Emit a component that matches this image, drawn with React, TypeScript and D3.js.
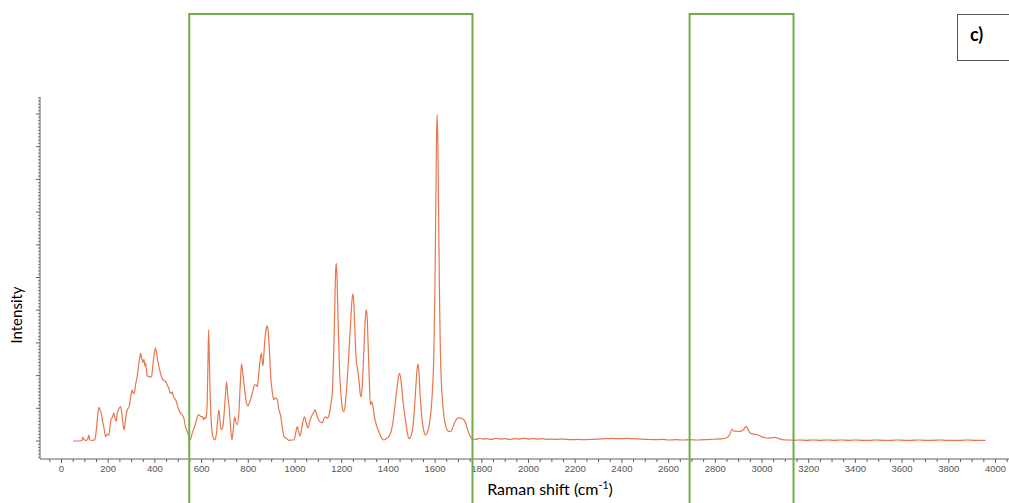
import React, { useRef, useEffect } from 'react';
import * as d3 from 'd3';

// Raman spectrum: [shift (cm-1), intensity (a.u.)]
const lowRegion: [number, number][] = [
  [50, 0], [80, 0], [88, 0.02], [92, 0.11], [97, 0.04], [105, 0.02], [112, 0.05], [117, 0.18],
  [121, 0.03], [135, 0.02], [143, 0.05], [150, 0.4], [156, 0.85], [160, 1.03], [165, 0.95],
  [170, 0.85], [176, 0.6], [182, 0.4], [189, 0.13], [196, 0.2], [203, 0.18], [208, 0.45],
  [213, 0.69], [218, 0.72], [224, 0.85], [229, 0.7], [234, 0.6], [238, 0.82], [241, 0.9],
  [247, 1.0], [253, 1.05], [258, 0.85], [263, 0.55], [267, 0.34], [272, 0.5], [277, 0.8],
  [281, 0.95], [286, 1.0], [290, 1.05], [295, 1.3], [300, 1.5], [303, 1.56], [308, 1.45],
  [313, 1.5], [318, 1.75], [324, 1.97], [330, 2.3], [335, 2.55], [339, 2.68], [344, 2.5],
  [349, 2.4], [353, 2.5], [357, 2.3], [360, 2.38], [364, 2.15], [367, 2.0], [371, 1.98],
  [376, 1.97], [382, 1.95], [386, 1.98], [391, 2.3], [396, 2.6], [402, 2.84], [407, 2.7],
  [411, 2.5], [417, 2.28], [423, 2.1], [431, 1.92], [438, 1.85], [446, 1.82], [452, 1.72],
  [460, 1.61], [466, 1.45], [474, 1.5], [480, 1.35], [489, 1.26], [496, 1.1], [503, 0.95],
  [510, 0.85], [517, 0.8], [524, 0.7], [531, 0.44], [538, 0.3], [545, 0.15], [550, 0.03],
];

const fingerprintRegion: [number, number][] = [
  [556, 0.12], [560, 0.25], [566, 0.35], [574, 0.54], [580, 0.7], [585, 0.8], [589, 0.8],
  [596, 0.75], [603, 0.74], [608, 0.65], [614, 0.72], [617, 0.69], [621, 0.8], [624, 1.2],
  [627, 2.3], [630, 3.4], [633, 2.6], [636, 1.6], [639, 0.95], [643, 0.4], [646, 0.2],
  [651, 0.08], [656, 0.03], [660, 0.1], [664, 0.25], [668, 0.6], [674, 0.95], [679, 0.6],
  [684, 0.35], [690, 0.4], [696, 0.8], [702, 1.4], [707, 1.82], [712, 1.4], [719, 0.95],
  [724, 0.45], [730, 0.03], [735, 0.3], [741, 0.74], [746, 0.6], [753, 0.5], [760, 0.9],
  [766, 1.8], [771, 2.36], [776, 2.1], [784, 1.6], [790, 1.25], [799, 1.07], [806, 1.2],
  [813, 1.35], [820, 1.55], [827, 1.71], [833, 1.72], [839, 1.66], [845, 2.1], [851, 2.5],
  [856, 2.68], [860, 2.4], [863, 2.3], [867, 2.7], [871, 3.1], [876, 3.4], [881, 3.52],
  [886, 3.3], [891, 2.7], [896, 1.97], [901, 1.6], [906, 1.35], [910, 1.26], [916, 1.32],
  [924, 1.26], [930, 1.0], [939, 0.75], [946, 0.4], [953, 0.13], [960, 0.1], [974, 0.02],
  [985, 0.03], [996, 0.03], [1003, 0.25], [1010, 0.44], [1015, 0.3], [1021, 0.15],
  [1028, 0.35], [1034, 0.6], [1041, 0.74], [1048, 0.55], [1056, 0.4], [1063, 0.6],
  [1070, 0.74], [1078, 0.85], [1086, 0.95], [1093, 0.8], [1103, 0.62], [1110, 0.58],
  [1117, 0.55], [1124, 0.68], [1131, 0.74], [1138, 0.7], [1146, 0.8], [1153, 1.1],
  [1160, 1.5], [1165, 2.5], [1170, 4.0], [1174, 5.2], [1177, 5.43], [1180, 5.0],
  [1184, 3.8], [1190, 2.3], [1197, 1.4], [1203, 1.0], [1209, 0.9], [1215, 1.1], [1222, 1.7],
  [1230, 2.6], [1238, 3.6], [1244, 4.3], [1248, 4.5], [1252, 4.2], [1257, 3.3], [1262, 2.5],
  [1266, 2.27], [1270, 2.1], [1276, 1.7], [1280, 1.4], [1283, 1.35], [1288, 1.7],
  [1294, 2.6], [1300, 3.6], [1304, 4.0], [1308, 3.9], [1313, 3.0], [1318, 1.9], [1323, 1.1],
  [1328, 1.2], [1333, 1.1], [1340, 0.75], [1348, 0.5], [1359, 0.29], [1370, 0.1],
  [1381, 0.03], [1392, 0.08], [1400, 0.12], [1412, 0.3], [1420, 0.6], [1430, 1.2],
  [1438, 1.7], [1444, 2.0], [1448, 2.07], [1453, 1.9], [1460, 1.4], [1467, 0.95], [1474, 0.6],
  [1481, 0.25], [1488, 0.08], [1495, 0.12], [1502, 0.3], [1510, 0.8], [1517, 1.6],
  [1523, 2.2], [1527, 2.35], [1531, 2.1], [1536, 1.4], [1541, 0.9], [1547, 0.5], [1552, 0.3],
  [1559, 0.18], [1566, 0.25], [1574, 0.45], [1582, 0.9], [1588, 1.46], [1594, 2.5],
  [1599, 4.5], [1603, 7.2], [1606, 9.2], [1609, 10.0], [1612, 9.0], [1615, 7.0], [1619, 4.3],
  [1623, 2.6], [1627, 1.76], [1632, 1.2], [1638, 0.75], [1646, 0.44], [1654, 0.32],
  [1661, 0.29], [1668, 0.3], [1675, 0.4], [1683, 0.55], [1690, 0.65], [1697, 0.7],
  [1703, 0.71], [1710, 0.7], [1716, 0.68], [1723, 0.65], [1730, 0.55], [1737, 0.4],
  [1744, 0.25], [1752, 0.12], [1760, 0.07],
];

const silentRegion: [number, number][] = [
  [1775, 0.05], [1790, 0.08], [1805, 0.06], [1820, 0.07], [1840, 0.05], [1860, 0.08],
  [1880, 0.06], [1900, 0.07], [1920, 0.05], [1940, 0.07], [1960, 0.06], [1980, 0.08],
  [2000, 0.06], [2020, 0.07], [2040, 0.06], [2060, 0.07], [2080, 0.05], [2100, 0.06],
  [2120, 0.05], [2150, 0.06], [2180, 0.04], [2210, 0.05], [2240, 0.04], [2270, 0.05],
  [2300, 0.06], [2330, 0.07], [2360, 0.08], [2390, 0.07], [2420, 0.08], [2450, 0.07],
  [2480, 0.06], [2510, 0.05], [2540, 0.04], [2570, 0.05], [2600, 0.03], [2630, 0.04],
  [2660, 0.03], [2690, 0.04],
];

const chRegion: [number, number][] = [
  [2720, 0.03], [2750, 0.04], [2780, 0.05], [2810, 0.06], [2830, 0.07], [2850, 0.1],
  [2862, 0.2], [2872, 0.36], [2880, 0.3], [2890, 0.3], [2900, 0.29], [2910, 0.3],
  [2920, 0.34], [2928, 0.42], [2934, 0.44], [2940, 0.36], [2948, 0.25], [2958, 0.22],
  [2968, 0.2], [2980, 0.19], [2992, 0.15], [3003, 0.12], [3015, 0.1], [3030, 0.09],
  [3045, 0.1], [3058, 0.11], [3070, 0.08], [3087, 0.04], [3105, 0.03], [3120, 0.03],
  [3135, 0.02],
];

const highRegion: [number, number][] = [
  [3160, 0.03], [3190, 0.02], [3220, 0.03], [3250, 0.02], [3280, 0.03], [3310, 0.02],
  [3340, 0.03], [3370, 0.02], [3400, 0.03], [3430, 0.02], [3460, 0.02], [3490, 0.03],
  [3520, 0.02], [3550, 0.02], [3580, 0.03], [3610, 0.02], [3640, 0.02], [3670, 0.03],
  [3700, 0.02], [3730, 0.02], [3760, 0.03], [3790, 0.02], [3820, 0.02], [3850, 0.02],
  [3880, 0.03], [3910, 0.02], [3940, 0.02], [3957, 0.02],
];

// Highlighted bands (cm-1)
const highlightBands: [number, number][] = [
  [547, 1760],
  [2690, 3135],
];

const xTickLabels = d3.range(0, 4001, 200);
const panelLabel = 'c)';

const WIDTH = 1009;
const HEIGHT = 503;

const RamanChart: React.FC = () => {
  const svgRef = useRef<SVGSVGElement>(null);

  useEffect(() => {
    if (!svgRef.current) return;
    const svg = d3.select(svgRef.current);
    svg.selectAll('*').remove();

    const x = d3.scaleLinear().domain([0, 4000]).range([61.5, 995.5]);
    const y = d3.scaleLinear().domain([0, 10]).range([441, 114]);

    const axisColor = '#606060';
    const axisY = 459;
    const axisX = 40;

    // x axis line + ticks
    svg.append('line')
      .attr('x1', axisX).attr('x2', WIDTH)
      .attr('y1', axisY).attr('y2', axisY)
      .attr('stroke', axisColor).attr('stroke-width', 1);

    d3.range(-50, 4051, 50).forEach((v) => {
      const major = v % 200 === 0;
      svg.append('line')
        .attr('x1', x(v)).attr('x2', x(v))
        .attr('y1', axisY).attr('y2', axisY + (major ? 4 : 3))
        .attr('stroke', axisColor).attr('stroke-width', 1);
    });

    xTickLabels.forEach((v) => {
      svg.append('text')
        .attr('x', x(v)).attr('y', axisY + 10)
        .attr('dy', '0.35em')
        .attr('text-anchor', 'middle')
        .attr('font-family', 'Liberation Sans, Arial, sans-serif')
        .attr('font-size', '9.5px')
        .attr('fill', '#555')
        .text(v);
    });

    // y axis line + ruler ticks (no labels)
    const yTop = 97;
    svg.append('line')
      .attr('x1', axisX).attr('x2', axisX)
      .attr('y1', yTop).attr('y2', axisY)
      .attr('stroke', axisColor).attr('stroke-width', 1);

    d3.range(-5, 106, 1).forEach((k) => {
      const v = k / 10;
      const py = y(v);
      if (py < yTop || py > axisY) return;
      const major = k % 10 === 0;
      svg.append('line')
        .attr('x1', axisX - (major ? 4 : 2)).attr('x2', axisX)
        .attr('y1', py).attr('y2', py)
        .attr('stroke', axisColor).attr('stroke-width', major ? 1 : 0.8);
    });

    // spectrum
    const spectrum = [...lowRegion, ...fingerprintRegion, ...silentRegion, ...chRegion, ...highRegion];
    const line = d3.line<[number, number]>()
      .x((d) => x(d[0]))
      .y((d) => y(d[1]))
      .curve(d3.curveMonotoneX);

    svg.append('path')
      .datum(spectrum)
      .attr('d', line)
      .attr('fill', 'none')
      .attr('stroke', '#e8764c')
      .attr('stroke-width', 1.2);

    // highlighted bands (green open frames)
    highlightBands.forEach(([a, b]) => {
      const x0 = x(a);
      const x1 = x(b);
      svg.append('path')
        .attr('d', `M${x0},${HEIGHT + 5}V14H${x1}V${HEIGHT + 5}`)
        .attr('fill', 'none')
        .attr('stroke', '#70ad47')
        .attr('stroke-width', 2);
    });

    // axis titles
    svg.append('text')
      .attr('transform', 'translate(22, 315) rotate(-90)')
      .attr('text-anchor', 'middle')
      .attr('font-family', 'Lato, Open Sans, sans-serif')
      .attr('font-size', '15px')
      .attr('fill', '#000')
      .text('Intensity');

    const xTitle = svg.append('text')
      .attr('x', 550).attr('y', 495)
      .attr('text-anchor', 'middle')
      .attr('font-family', 'Lato, Open Sans, sans-serif')
      .attr('font-size', '16px')
      .attr('fill', '#000');
    xTitle.append('tspan').text('Raman shift (cm');
    xTitle.append('tspan').attr('dy', -6).attr('font-size', '10.5px').text('-1');
    xTitle.append('tspan').attr('dy', 6).text(')');

    // panel label
    svg.append('rect')
      .attr('x', 957.5).attr('y', 14.5)
      .attr('width', 60).attr('height', 46)
      .attr('fill', '#fff')
      .attr('stroke', '#555')
      .attr('stroke-width', 1);
    svg.append('text')
      .attr('x', 970).attr('y', 41)
      .attr('font-family', 'Lato, Open Sans, sans-serif')
      .attr('font-weight', 'bold')
      .attr('font-size', '18px')
      .attr('fill', '#000')
      .text(panelLabel);
  }, []);

  return (
    <svg
      ref={svgRef}
      width={WIDTH}
      height={HEIGHT}
      style={{ position: 'absolute', left: 0, top: 0, background: '#fff' }}
    />
  );
};

export default function App() {
  return <RamanChart />;
}
